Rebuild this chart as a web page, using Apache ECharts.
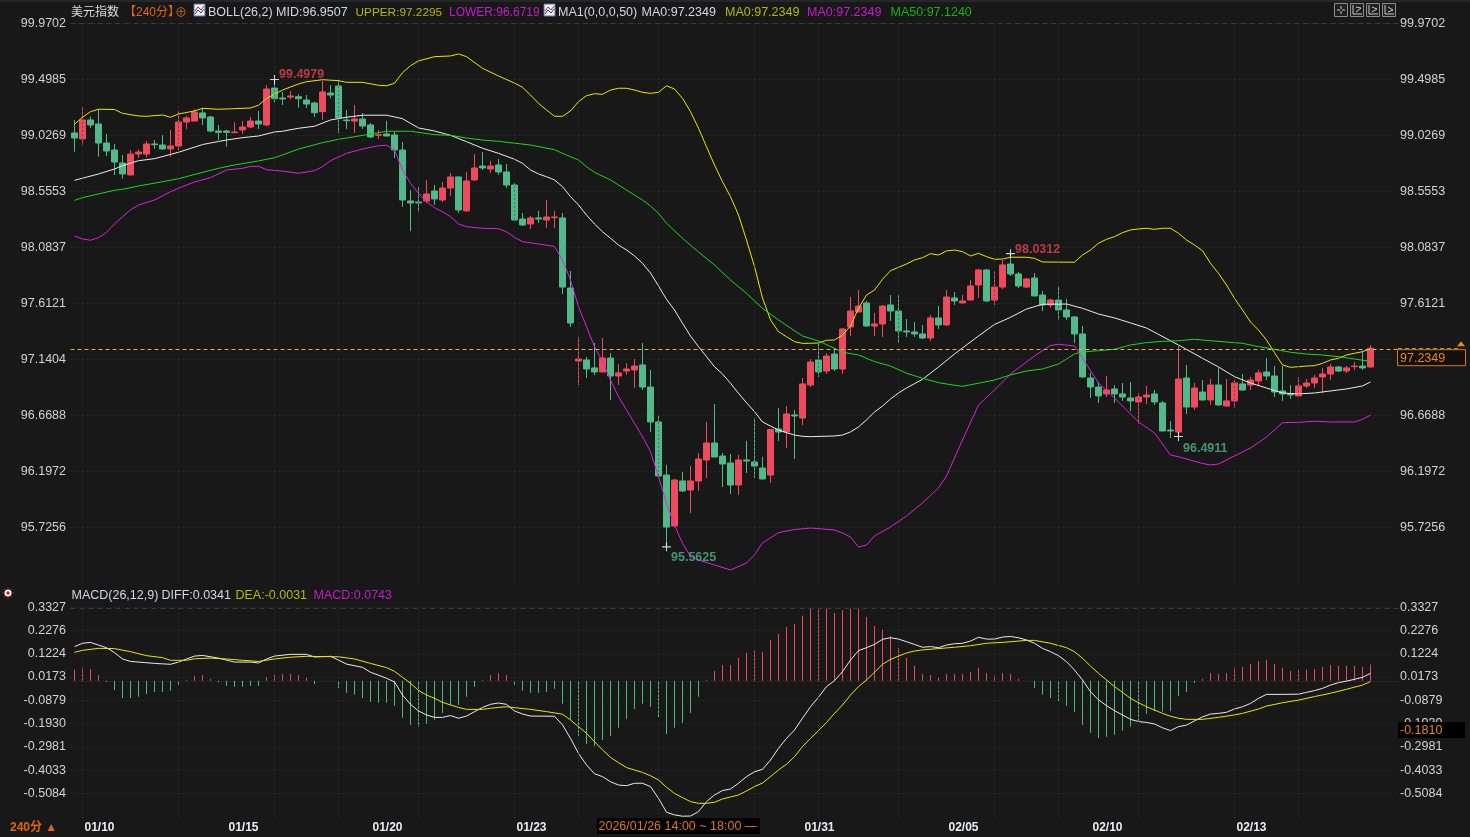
<!DOCTYPE html>
<html>
<head>
<meta charset="utf-8">
<title>美元指数 240分</title>
<style>
html,body{margin:0;padding:0;background:#181818;}
#main{width:1470px;height:837px;}
</style>
<script src="https://cdn.jsdelivr.net/npm/echarts@6/dist/echarts.min.js"></script>
</head>
<body>
<div id="main"></div>
<script>
// candles, oldest first
var opens = [
99.048,98.997,99.157,99.123,98.963,98.904,98.795,98.694,98.870,98.870,
98.955,98.946,98.913,98.938,99.140,99.148,99.216,99.182,99.064,99.064,
99.050,99.073,99.098,99.148,99.115,99.426,99.342,99.350,99.353,99.325,
99.300,99.227,99.384,99.443,99.157,99.148,99.165,99.115,99.028,99.039,
99.031,98.904,98.475,98.466,98.475,98.559,98.483,98.584,98.677,98.391,
98.652,98.769,98.744,98.778,98.719,98.609,98.323,98.281,98.332,98.315,
98.334,98.332,97.742,97.127,97.136,97.069,97.035,97.152,97.001,97.043,
97.052,97.094,96.908,96.614,96.167,95.738,96.117,96.041,96.117,96.294,
96.437,96.327,96.268,96.083,96.294,96.277,96.226,96.167,96.555,96.529,
96.673,96.647,96.925,97.136,97.043,97.186,97.060,97.414,97.540,97.616,
97.422,97.439,97.599,97.548,97.380,97.372,97.355,97.321,97.490,97.431,
97.658,97.616,97.641,97.767,97.894,97.641,97.750,97.944,97.860,97.750,
97.826,97.683,97.599,97.641,97.557,97.498,97.355,96.984,96.908,96.850,
96.892,96.850,96.816,96.782,96.824,96.850,96.774,96.546,96.529,96.984,
96.740,96.866,96.799,96.925,96.748,96.791,96.934,96.925,96.959,97.035,
97.001,96.875,96.850,96.833,96.917,96.942,96.993,97.018,97.077,97.043,
97.080,97.085,97.077];
var closes = [
99.005,99.157,99.115,98.963,98.896,98.803,98.702,98.870,98.887,98.955,
98.949,98.913,98.938,99.140,99.174,99.224,99.174,99.064,99.053,99.053,
99.056,99.098,99.148,99.123,99.418,99.336,99.334,99.359,99.336,99.291,
99.218,99.393,99.367,99.174,99.151,99.165,99.106,99.014,99.033,99.022,
98.904,98.483,98.458,98.458,98.534,98.492,98.584,98.677,98.399,98.643,
98.753,98.753,98.769,98.719,98.609,98.315,98.273,98.332,98.323,98.340,
98.340,97.750,97.447,97.144,97.060,97.035,97.152,97.001,97.027,97.060,
97.085,96.908,96.614,96.159,95.729,96.125,96.033,96.117,96.302,96.437,
96.319,96.260,96.083,96.294,96.285,96.243,96.134,96.550,96.529,96.681,
96.664,96.934,97.119,97.035,97.169,97.060,97.397,97.548,97.590,97.422,
97.439,97.590,97.548,97.380,97.372,97.355,97.321,97.490,97.431,97.666,
97.633,97.633,97.759,97.894,97.633,97.750,97.936,97.860,97.759,97.818,
97.675,97.599,97.641,97.557,97.498,97.355,96.993,96.908,96.833,96.883,
96.850,96.824,96.791,96.824,96.841,96.782,96.538,96.538,96.976,96.740,
96.900,96.799,96.925,96.757,96.791,96.942,96.883,96.967,97.027,97.001,
96.866,96.850,96.841,96.917,96.942,96.984,97.018,97.077,97.043,97.069,
97.085,97.069,97.2349];
var lows = [
98.890,98.949,99.090,98.848,98.854,98.694,98.663,98.690,98.837,98.843,
98.915,98.904,98.845,98.904,99.081,99.145,99.115,99.053,98.988,98.932,
99.048,99.039,99.090,99.081,99.106,99.302,99.283,99.331,99.260,99.258,
99.182,99.157,99.339,99.048,99.081,99.048,99.081,99.005,98.997,99.020,
98.837,98.424,98.222,98.382,98.458,98.441,98.466,98.517,98.374,98.388,
98.643,98.736,98.711,98.694,98.584,98.306,98.264,98.239,98.290,98.247,
98.247,97.691,97.414,96.925,96.984,97.010,97.032,96.799,96.925,97.010,
96.900,96.883,96.529,96.155,95.5625,95.729,96.024,95.847,96.033,96.142,
96.315,96.066,96.008,95.999,96.184,96.142,96.130,96.100,96.454,96.395,
96.302,96.588,96.908,96.993,97.018,97.043,97.018,97.338,97.537,97.414,
97.338,97.330,97.464,97.279,97.330,97.330,97.313,97.296,97.397,97.422,
97.599,97.613,97.638,97.658,97.624,97.599,97.733,97.843,97.742,97.742,
97.672,97.548,97.574,97.473,97.473,97.279,96.984,96.816,96.774,96.824,
96.774,96.791,96.706,96.597,96.765,96.757,96.535,96.479,96.4911,96.681,
96.715,96.795,96.757,96.748,96.745,96.732,96.880,96.883,96.925,96.967,
96.824,96.791,96.807,96.830,96.900,96.900,96.858,96.967,97.035,97.027,
97.052,97.052,97.069];
var highs = [
99.157,99.264,99.185,99.247,99.039,98.955,98.862,98.904,98.910,98.980,
98.988,99.031,99.073,99.230,99.191,99.247,99.258,99.191,99.115,99.073,
99.140,99.148,99.182,99.233,99.451,99.4979,99.393,99.401,99.373,99.367,
99.311,99.485,99.451,99.494,99.241,99.283,99.216,99.132,99.073,99.148,
99.056,98.972,98.567,98.593,98.652,98.609,98.635,98.711,98.680,98.719,
98.870,98.887,98.812,98.828,98.786,98.626,98.374,98.348,98.391,98.483,
98.391,98.374,97.885,97.330,97.161,97.279,97.321,97.194,97.102,97.110,
97.144,97.279,97.052,96.664,96.252,96.134,96.193,96.243,96.353,96.614,
96.765,96.353,96.344,96.336,96.454,96.647,96.319,96.555,96.732,96.748,
96.715,96.984,97.144,97.287,97.194,97.237,97.405,97.666,97.725,97.633,
97.532,97.599,97.683,97.683,97.481,97.456,97.431,97.515,97.590,97.725,
97.708,97.683,97.809,97.902,97.902,97.885,97.978,98.0312,97.877,97.826,
97.868,97.717,97.650,97.759,97.650,97.506,97.422,97.027,96.951,97.001,
96.925,96.942,96.951,96.858,96.917,96.883,96.791,96.622,97.254,97.094,
96.942,96.967,96.976,97.069,96.976,96.967,97.018,96.993,97.052,97.152,
97.085,97.085,96.925,96.993,96.976,97.010,97.069,97.102,97.085,97.085,
97.119,97.212,97.262];

// indicator curves: [bar, value], read where the curve bends
var bollUpper = [[0,99.121],[1,99.180],[2,99.227],[3,99.247],[5,99.245],[6,99.213],[8,99.191],[9,99.188],[11,99.199],[12,99.180],[13,99.207],[15,99.233],[16,99.255],[18,99.247],[20,99.252],[22,99.258],[23,99.281],[24,99.339],[25,99.373],[26,99.409],[28,99.460],[29,99.479],[31,99.496],[33,99.488],[34,99.474],[36,99.474],[38,99.449],[39,99.445],[40,99.466],[41,99.555],[42,99.614],[43,99.654],[45,99.690],[47,99.696],[48,99.713],[49,99.690],[51,99.592],[53,99.527],[55,99.468],[56,99.432],[57,99.367],[58,99.297],[59,99.241],[60,99.188],[61,99.188],[62,99.233],[63,99.311],[64,99.361],[65,99.378],[66,99.373],[67,99.409],[68,99.424],[69,99.424],[70,99.409],[71,99.390],[72,99.381],[73,99.390],[74,99.445],[75,99.418],[76,99.339],[77,99.227],[78,99.087],[79,98.932],[80,98.778],[81,98.637],[82,98.511],[83,98.357],[84,98.146],[85,97.922],[86,97.658],[87,97.473],[88,97.374],[89,97.332],[90,97.290],[91,97.276],[92,97.276],[93,97.279],[94,97.302],[95,97.304],[96,97.346],[97,97.422],[98,97.571],[99,97.683],[100,97.725],[101,97.815],[102,97.888],[103,97.916],[104,97.944],[105,97.978],[106,97.997],[107,98.031],[108,98.020],[109,98.054],[110,98.062],[111,98.048],[112,98.012],[113,98.034],[114,98.006],[115,97.984],[116,97.986],[117,98.001],[119,98.001],[120,97.992],[121,97.961],[125,97.959],[126,98.020],[127,98.062],[128,98.119],[129,98.152],[130,98.174],[131,98.208],[132,98.231],[133,98.239],[134,98.245],[135,98.236],[136,98.245],[137,98.245],[138,98.203],[139,98.146],[140,98.104],[141,98.056],[142,97.950],[143,97.866],[144,97.767],[145,97.655],[146,97.557],[147,97.456],[148,97.388],[149,97.304],[150,97.197],[151,97.094],[152,97.074],[153,97.079],[154,97.085],[155,97.088],[156,97.108],[157,97.136],[158,97.150],[159,97.178],[160,97.192],[161,97.206],[162,97.2295]];
var bollMid = [[0,98.649],[3,98.702],[5,98.744],[6,98.772],[8,98.814],[10,98.831],[13,98.885],[16,98.950],[18,98.976],[19,98.988],[21,99.008],[23,99.022],[25,99.056],[26,99.062],[28,99.087],[30,99.104],[32,99.157],[34,99.180],[36,99.197],[39,99.197],[41,99.168],[43,99.090],[45,99.064],[47,99.028],[49,98.974],[51,98.919],[53,98.876],[55,98.826],[56,98.792],[57,98.736],[58,98.702],[59,98.679],[60,98.652],[61,98.595],[62,98.511],[63,98.441],[64,98.357],[65,98.281],[66,98.216],[67,98.161],[68,98.104],[69,98.062],[70,98.012],[71,97.950],[72,97.868],[73,97.759],[74,97.647],[75,97.557],[76,97.445],[77,97.338],[78,97.248],[79,97.164],[80,97.079],[81,97.018],[82,96.940],[83,96.855],[84,96.776],[85,96.701],[86,96.614],[87,96.580],[88,96.546],[89,96.524],[90,96.504],[91,96.493],[92,96.490],[95,96.496],[96,96.504],[97,96.530],[98,96.572],[99,96.631],[100,96.698],[101,96.748],[102,96.807],[103,96.858],[104,96.900],[106,96.973],[108,97.077],[110,97.186],[111,97.237],[113,97.338],[115,97.435],[117,97.495],[119,97.565],[121,97.605],[124,97.607],[126,97.571],[128,97.523],[130,97.490],[132,97.448],[134,97.405],[138,97.262],[141,97.150],[143,97.077],[145,96.995],[147,96.942],[149,96.900],[151,96.858],[153,96.850],[155,96.858],[157,96.875],[159,96.892],[161,96.917],[162,96.9507]];
var bollLower = [[0,98.180],[1,98.155],[2,98.144],[3,98.166],[4,98.211],[5,98.281],[6,98.343],[7,98.399],[8,98.441],[10,98.483],[12,98.553],[13,98.582],[15,98.635],[17,98.671],[19,98.736],[21,98.750],[22,98.767],[23,98.767],[24,98.738],[26,98.727],[28,98.708],[30,98.730],[31,98.764],[32,98.814],[34,98.876],[36,98.912],[38,98.940],[39,98.944],[40,98.904],[41,98.736],[42,98.624],[43,98.540],[44,98.469],[45,98.418],[46,98.385],[47,98.343],[48,98.281],[49,98.258],[51,98.245],[53,98.241],[54,98.216],[55,98.169],[56,98.132],[58,98.113],[60,98.092],[61,97.978],[62,97.809],[63,97.585],[64,97.416],[65,97.248],[66,97.122],[67,96.967],[68,96.827],[69,96.715],[70,96.603],[71,96.490],[72,96.364],[73,96.153],[74,95.929],[75,95.746],[76,95.592],[77,95.480],[78,95.452],[80,95.410],[82,95.367],[84,95.426],[85,95.494],[86,95.595],[88,95.682],[90,95.708],[92,95.721],[95,95.704],[96,95.679],[97,95.645],[98,95.561],[99,95.578],[100,95.654],[102,95.729],[104,95.822],[106,95.932],[108,96.058],[109,96.159],[111,96.462],[113,96.757],[115,96.883],[117,97.018],[118,97.069],[120,97.170],[122,97.258],[123,97.268],[125,97.254],[126,97.152],[128,96.942],[130,96.816],[133,96.614],[135,96.521],[137,96.336],[138,96.321],[139,96.302],[141,96.264],[142,96.252],[143,96.260],[144,96.294],[147,96.395],[149,96.487],[151,96.608],[153,96.611],[155,96.620],[157,96.614],[160,96.614],[161,96.636],[162,96.6719]];
var ma50 = [[0,98.480],[1,98.503],[3,98.534],[5,98.565],[6,98.573],[8,98.601],[11,98.637],[13,98.662],[16,98.716],[18,98.750],[20,98.778],[23,98.812],[25,98.839],[26,98.862],[28,98.912],[31,98.966],[33,98.994],[35,99.016],[38,99.050],[39,99.062],[42,99.062],[45,99.033],[47,99.028],[49,99.005],[51,98.988],[53,98.977],[57,98.946],[60,98.907],[61,98.876],[63,98.820],[64,98.764],[65,98.716],[67,98.652],[69,98.567],[71,98.483],[72,98.433],[73,98.371],[74,98.287],[76,98.161],[78,98.045],[80,97.936],[82,97.809],[84,97.697],[86,97.571],[88,97.473],[90,97.382],[91,97.338],[93,97.296],[95,97.234],[96,97.201],[98,97.178],[100,97.122],[102,97.085],[104,97.024],[106,96.982],[108,96.945],[110,96.923],[111,96.914],[113,96.940],[115,96.967],[117,97.010],[119,97.043],[121,97.060],[123,97.102],[124,97.144],[125,97.186],[126,97.203],[128,97.214],[130,97.226],[132,97.262],[134,97.282],[136,97.293],[138,97.298],[140,97.310],[142,97.298],[144,97.287],[146,97.276],[148,97.248],[150,97.226],[152,97.201],[154,97.186],[156,97.178],[158,97.164],[160,97.144],[162,97.1240]];

var macdBars = [
0.050,0.059,0.054,0.027,-0.005,-0.041,-0.077,-0.077,-0.072,-0.059,
-0.050,-0.050,-0.045,-0.018,0.004,0.023,0.027,0.009,-0.006,-0.023,
-0.027,-0.027,-0.023,-0.023,0.018,0.027,0.032,0.032,0.027,0.014,
-0.014,0.002,0.002,-0.032,-0.054,-0.063,-0.077,-0.095,-0.099,-0.099,
-0.113,-0.167,-0.199,-0.208,-0.194,-0.176,-0.145,-0.109,-0.109,-0.072,
-0.027,0.004,0.027,0.036,0.027,-0.018,-0.045,-0.054,-0.054,-0.050,
-0.036,-0.104,-0.176,-0.249,-0.285,-0.294,-0.267,-0.249,-0.212,-0.172,
-0.127,-0.104,-0.118,-0.167,-0.240,-0.212,-0.190,-0.145,-0.072,0.004,
0.045,0.072,0.072,0.104,0.127,0.136,0.131,0.185,0.212,0.244,
0.258,0.294,0.326,0.326,0.326,0.307,0.321,0.326,0.326,0.289,
0.249,0.231,0.203,0.149,0.104,0.068,0.032,0.027,0.014,0.032,
0.032,0.032,0.041,0.059,0.036,0.023,0.036,0.032,0.009,0.002,
-0.032,-0.063,-0.077,-0.095,-0.113,-0.140,-0.199,-0.235,-0.258,-0.253,
-0.244,-0.226,-0.208,-0.181,-0.149,-0.136,-0.140,-0.136,-0.068,-0.050,
-0.009,0.009,0.036,0.032,0.036,0.059,0.063,0.077,0.090,0.095,
0.077,0.059,0.045,0.050,0.050,0.054,0.063,0.072,0.068,0.068,
0.068,0.063,0.0743];
var diffLine = [[0,0.155],[1,0.170],[2,0.174],[3,0.162],[4,0.150],[5,0.128],[6,0.099],[7,0.088],[8,0.085],[10,0.079],[12,0.075],[13,0.085],[14,0.099],[15,0.112],[16,0.115],[18,0.103],[20,0.085],[22,0.085],[23,0.081],[24,0.099],[25,0.112],[27,0.120],[29,0.120],[30,0.108],[32,0.111],[33,0.094],[34,0.076],[36,0.061],[37,0.039],[39,0.012],[40,-0.005],[41,-0.064],[42,-0.106],[43,-0.136],[44,-0.154],[45,-0.165],[46,-0.165],[47,-0.157],[48,-0.169],[49,-0.159],[51,-0.120],[52,-0.106],[53,-0.100],[54,-0.106],[55,-0.136],[56,-0.150],[57,-0.159],[60,-0.160],[61,-0.199],[62,-0.260],[63,-0.328],[64,-0.380],[65,-0.420],[66,-0.433],[67,-0.456],[68,-0.471],[69,-0.474],[70,-0.463],[71,-0.463],[72,-0.478],[73,-0.531],[74,-0.594],[75,-0.606],[76,-0.612],[77,-0.611],[78,-0.591],[79,-0.546],[80,-0.516],[81,-0.496],[82,-0.489],[83,-0.463],[84,-0.433],[85,-0.411],[86,-0.400],[87,-0.358],[88,-0.305],[89,-0.260],[90,-0.222],[91,-0.169],[92,-0.117],[93,-0.074],[94,-0.026],[95,0.001],[96,0.042],[97,0.094],[98,0.137],[99,0.150],[100,0.165],[101,0.188],[102,0.195],[103,0.189],[104,0.177],[105,0.165],[106,0.152],[107,0.155],[108,0.150],[109,0.162],[110,0.168],[111,0.170],[112,0.180],[113,0.197],[114,0.189],[115,0.189],[116,0.198],[117,0.201],[118,0.195],[119,0.185],[120,0.170],[121,0.147],[122,0.132],[123,0.114],[124,0.087],[125,0.049],[126,0.004],[127,-0.049],[128,-0.086],[129,-0.112],[130,-0.135],[131,-0.154],[132,-0.174],[133,-0.184],[134,-0.188],[135,-0.195],[136,-0.212],[137,-0.225],[138,-0.207],[139,-0.200],[140,-0.181],[141,-0.163],[142,-0.150],[143,-0.147],[144,-0.142],[145,-0.127],[146,-0.117],[147,-0.102],[148,-0.079],[149,-0.061],[151,-0.061],[153,-0.060],[154,-0.052],[155,-0.044],[156,-0.034],[157,-0.019],[158,-0.008],[159,-0.001],[160,0.007],[161,0.016],[162,0.0341]];
var deaLine = [[0,0.129],[1,0.138],[3,0.147],[5,0.146],[7,0.132],[9,0.114],[11,0.105],[12,0.093],[14,0.093],[15,0.100],[17,0.103],[19,0.099],[21,0.093],[23,0.088],[25,0.099],[27,0.107],[29,0.111],[33,0.109],[35,0.099],[37,0.079],[39,0.060],[40,0.043],[41,0.016],[42,-0.011],[43,-0.043],[44,-0.064],[45,-0.079],[46,-0.097],[47,-0.109],[48,-0.120],[49,-0.129],[51,-0.129],[52,-0.124],[53,-0.120],[54,-0.117],[55,-0.121],[57,-0.129],[59,-0.139],[61,-0.151],[62,-0.177],[63,-0.207],[64,-0.237],[65,-0.275],[66,-0.312],[67,-0.346],[68,-0.370],[69,-0.392],[70,-0.403],[71,-0.414],[72,-0.429],[73,-0.448],[74,-0.481],[75,-0.509],[76,-0.528],[77,-0.546],[78,-0.554],[79,-0.554],[80,-0.549],[81,-0.534],[82,-0.525],[83,-0.516],[84,-0.498],[85,-0.478],[86,-0.462],[87,-0.433],[88,-0.403],[89,-0.377],[90,-0.343],[91,-0.297],[92,-0.260],[93,-0.225],[94,-0.188],[95,-0.147],[96,-0.109],[97,-0.064],[98,-0.026],[99,0.004],[100,0.039],[101,0.075],[102,0.097],[103,0.112],[104,0.126],[105,0.135],[106,0.140],[108,0.146],[110,0.152],[112,0.159],[114,0.170],[116,0.174],[119,0.183],[120,0.183],[122,0.170],[124,0.150],[125,0.132],[126,0.102],[127,0.067],[128,0.034],[129,0.004],[130,-0.026],[131,-0.052],[132,-0.079],[133,-0.099],[134,-0.117],[135,-0.132],[136,-0.147],[137,-0.160],[138,-0.169],[139,-0.174],[141,-0.174],[143,-0.165],[145,-0.154],[146,-0.147],[148,-0.127],[149,-0.114],[151,-0.099],[153,-0.087],[155,-0.071],[157,-0.056],[159,-0.038],[161,-0.019],[162,-0.0031]];

var priceTicks = [99.9702,99.4985,99.0269,98.5553,98.0837,97.6121,97.1404,96.6688,96.1972,95.7256];
var macdTicks = [0.3327,0.2276,0.1224,0.0173,-0.0879,-0.1930,-0.2981,-0.4033,-0.5084];
var dateBars = [1,19,37,55,91,109,127,145];
var dateTexts = ['01/10','01/15','01/20','01/23','01/31','02/05','02/10','02/13'];
var gridBars = [1,13,25,33,43,55,63,73,85,93,103,115,123,133,145,153];
var extremes = [[25,99.4979,'99.4979','#e2444f',-7],[74,95.5625,'95.5625','#4fb48c',9],[117,98.0312,'98.0312','#e2444f',-6],[138,96.4911,'96.4911','#4fb48c',10]];
var lastPrice = 97.2349;
var crossTag = '-0.1810';

var barCount = 166; // a few empty bands on the right of the last candle
var categories = [];
for (var i = 0; i < barCount; i++) categories.push('');
dateBars.forEach(function (b, k) { categories[b] = dateTexts[k]; });

var candles = opens.map(function (o, k) { return [o, closes[k], lows[k], highs[k]]; });

var RED = '#ee4c5e', GREEN = '#52b98a';
var FONT = '"Liberation Sans", Arial, sans-serif';
var FS = 12.5;

var chart = echarts.init(document.getElementById('main'), null, {renderer: 'canvas'});

function vLines() {
  return gridBars.map(function (b) { return {xAxis: b}; });
}
function gridMarks(xi, yi, topValue) {
  return {
    type: 'line', xAxisIndex: xi, yAxisIndex: yi, data: [], z: 1, silent: true,
    markLine: {
      symbol: 'none', silent: true, animation: false, label: {show: false},
      lineStyle: {color: '#383838', type: [1, 3], width: 1},
      data: vLines().concat([{yAxis: topValue, lineStyle: {color: '#3a3a3a', type: [5, 4], width: 1}}])
    }
  };
}
function curve(name, data, color, xi, yi) {
  return {
    name: name, type: 'line', data: data, xAxisIndex: xi, yAxisIndex: yi, z: 3,
    showSymbol: false, symbol: 'none', silent: true,
    lineStyle: {color: color, width: 1}
  };
}
function yAxisOf(grid, pos, ticks, min, max, margin, split) {
  return {
    type: 'value', gridIndex: grid, position: pos, min: min, max: max, scale: true,
    axisLine: {show: false},
    axisTick: {show: false, customValues: ticks},
    axisLabel: {
      customValues: ticks, color: '#d2d2d2', fontFamily: FONT, fontSize: FS, margin: margin,
      formatter: function (v) { return v.toFixed(4); }
    },
    splitLine: {show: split, lineStyle: {color: '#333333', type: [1, 3], width: 1}}
  };
}

chart.setOption({
  animation: false,
  backgroundColor: '#181818',
  grid: [
    {left: 70.5, top: 23.4, width: 1328, height: 560},
    {left: 70.5, top: 607.3, width: 1328, height: 210.7}
  ],
  xAxis: [
    {type: 'category', gridIndex: 0, data: categories, show: false},
    {
      type: 'category', gridIndex: 1, data: categories,
      axisLine: {show: true, lineStyle: {color: '#242424'}},
      axisTick: {show: false},
      splitLine: {show: false},
      axisLabel: {
        show: true, interval: 0, align: 'left', margin: 4, padding: [0, 0, 0, 2], color: '#e6edf5',
        fontFamily: FONT, fontSize: 12, fontWeight: 'bold'
      }
    }
  ],
  yAxis: [
    yAxisOf(0, 'left', priceTicks, 95.2544, 99.9702, 4.5, true),
    yAxisOf(0, 'right', priceTicks, 95.2544, 99.9702, 1.5, false),
    yAxisOf(1, 'left', macdTicks, -0.6201, 0.3327, 4.5, true),
    yAxisOf(1, 'right', macdTicks, -0.6201, 0.3327, 1.5, false)
  ],
  series: [
    gridMarks(0, 0, priceTicks[0]),
    gridMarks(1, 2, macdTicks[0]),
    {
      type: 'candlestick', data: candles, xAxisIndex: 0, yAxisIndex: 0, z: 2,
      barWidth: 7, silent: true,
      itemStyle: {
        color: RED, color0: GREEN, borderColor: RED, borderColor0: GREEN,
        borderColorDoji: RED, borderWidth: 1
      },
      markLine: {
        symbol: 'none', silent: true, animation: false, label: {show: false},
        lineStyle: {color: '#e8a860', type: [4, 3], width: 1},
        data: [{yAxis: lastPrice}]
      }
    },
    curve('UPPER', bollUpper, '#e8e800', 0, 0),
    curve('MID', bollMid, '#ececec', 0, 0),
    curve('LOWER', bollLower, '#e020e0', 0, 0),
    curve('MA50', ma50, '#18d818', 0, 0),
    {
      type: 'scatter', xAxisIndex: 0, yAxisIndex: 0, z: 5, silent: true,
      data: extremes.map(function (e) {
        return {value: [e[0], e[1]], text: e[2], label: {color: e[3]}};
      }),
      symbol: 'path://M0 3.5H3.5V0H4.5V3.5H8V4.5H4.5V8H3.5V4.5H0Z',
      symbolSize: 9,
      itemStyle: {color: '#ffffff'},
      label: {
        show: true, position: 'right', fontFamily: FONT, fontSize: FS, fontWeight: 'bold',
        formatter: function (p) { return p.data.text; }
      },
      labelLayout: function (p) {
        return {x: p.rect.x + 9, y: p.rect.y + extremes[p.dataIndex][4], align: 'left', verticalAlign: 'top'};
      }
    },
    {
      type: 'bar', data: macdBars, xAxisIndex: 1, yAxisIndex: 2, z: 2, barWidth: 1, silent: true,
      itemStyle: {color: function (p) { return p.value >= 0 ? '#f0485a' : '#45b884'; }}
    },
    curve('DIFF', diffLine, '#ececec', 1, 2),
    curve('DEA', deaLine, '#e8e800', 1, 2)
  ]
});

// header rows, tags and the small toolbar icons
var headerItems = [
  ['美元指数', 71, 12.5, '#dcdcdc', 12], ['【240分】', 124, 12.5, '#e0650f', 12], ['⊕', 175, 13.5, '#d0601a', 12],
  ['BOLL(26,2) MID:96.9507', 208, 12.5, '#cfd8e2', FS], ['UPPER:97.2295', 355.5, 12.5, '#b7b700', 11.8],
  ['LOWER:96.6719', 449, 12.5, '#c41ccc', 12], ['MA1(0,0,0,50)', 558, 12.5, '#cfd8e2', FS],
  ['MA0:97.2349', 641.5, 12.5, '#cfd8e2', FS], ['MA0:97.2349', 725, 12.5, '#b7b700', FS],
  ['MA0:97.2349', 807, 12.5, '#c41ccc', FS], ['MA50:97.1240', 890.5, 12.5, '#14b414', FS],
  ['MACD(26,12,9)', 71.5, 596, '#cfd8e2', FS], ['DIFF:0.0341', 161.5, 596, '#cfd8e2', FS],
  ['DEA:-0.0031', 235.5, 596, '#b7b700', FS], ['MACD:0.0743', 313.5, 596, '#c41ccc', FS]
];
var g = [{type: 'rect', shape: {x: 0, y: 0, width: 1470, height: 2}, style: {fill: '#26262a'}, silent: true}];
headerItems.forEach(function (h) {
  g.push({type: 'text', x: h[1], y: h[2], silent: true,
    style: {text: h[0], fill: h[3], font: h[4] + 'px ' + FONT + ', "Noto Sans CJK SC"', verticalAlign: 'middle'}});
});
function chartIcon(x) {
  g.push({type: 'rect', shape: {x: x, y: 4, width: 11, height: 12}, style: {fill: '#f4f4f4', stroke: '#5a6ab0', lineWidth: 1}, silent: true});
  g.push({type: 'polyline', shape: {points: [[x + 1, 11], [x + 4, 7], [x + 7, 10], [x + 10, 6]]}, style: {stroke: '#d02020', fill: 'none', lineWidth: 1}, silent: true});
  g.push({type: 'polyline', shape: {points: [[x + 1, 14], [x + 4, 10], [x + 7, 13], [x + 10, 9]]}, style: {stroke: '#2030c0', fill: 'none', lineWidth: 1}, silent: true});
}
chartIcon(194);
chartIcon(544);
// toolbar top right
[1334, 1350, 1366, 1382].forEach(function (x, k) {
  g.push({type: 'rect', shape: {x: x + 0.5, y: 3.5, width: 13, height: 13}, style: {fill: '#202020', stroke: '#8c8c8c', lineWidth: 1}, silent: true});
  var segs = k === 0 ?
    [[x + 3, 10, x + 6, 10], [x + 8, 10, x + 11, 10], [x + 7, 6, x + 7, 9], [x + 7, 11, x + 7, 14]] :
    [[x + 3, 5, x + 3, 14], [x + 3, 14, x + 12, 14], [x + 6, 7, x + 11, 7 + k], [x + 6, 12, x + 11, 7 + k]];
  segs.forEach(function (s) {
    g.push({type: 'line', shape: {x1: s[0], y1: s[1], x2: s[2], y2: s[3]}, style: {stroke: '#c8c8c8', lineWidth: 1}, silent: true});
  });
});
// red dot at the MACD pane
g.push({type: 'circle', shape: {cx: 8, cy: 593, r: 3.5}, style: {fill: '#ffffff'}, silent: true});
g.push({type: 'circle', shape: {cx: 8, cy: 593, r: 1.7}, style: {fill: '#e01010'}, silent: true});
[[8, 587, 8, 588.5], [8, 597.5, 8, 599], [2, 593, 3.5, 593], [12.5, 593, 14, 593], [4, 589, 5, 590], [11, 590, 12, 589], [4, 597, 5, 596], [11, 596, 12, 597]].forEach(function (s) {
  g.push({type: 'line', shape: {x1: s[0], y1: s[1], x2: s[2], y2: s[3]}, style: {stroke: '#d01818', lineWidth: 1}, silent: true});
});
// bottom left period, crosshair date tag
g.push({type: 'text', x: 10, y: 828, silent: true, style: {text: '240分 ▲', fill: '#e0650f', font: 'bold 12px ' + FONT + ', "Noto Sans CJK SC"', verticalAlign: 'middle'}});
g.push({type: 'rect', shape: {x: 597, y: 818, width: 163, height: 16}, style: {fill: '#000000'}, silent: true});
g.push({type: 'text', x: 598.5, y: 827, silent: true, style: {text: '2026/01/26 14:00 ~ 18:00 —', fill: '#e07818', font: FS + 'px ' + FONT, verticalAlign: 'middle'}});

// tags on the right: price tag follows the axis scale, crosshair tag stays where it was left
var priceY = chart.convertToPixel({yAxisIndex: 0}, lastPrice);
g.push({type: 'line', shape: {x1: 1398, y1: priceY + 0.5, x2: 1460, y2: priceY + 0.5}, style: {stroke: '#e8a860', lineWidth: 1, lineDash: [4, 3]}, silent: true});
g.push({type: 'polygon', shape: {points: [[1457, priceY - 2], [1465, priceY - 2], [1461, priceY - 7]]}, style: {fill: '#e8881a'}, silent: true});
g.push({type: 'rect', shape: {x: 1397.5, y: priceY + 1.5, width: 68, height: 16}, style: {fill: '#101010', stroke: '#e07818', lineWidth: 1}, silent: true});
g.push({type: 'text', x: 1400, y: priceY + 10, silent: true, style: {text: lastPrice.toFixed(4), fill: '#e8861e', font: FS + 'px ' + FONT, verticalAlign: 'middle'}});
g.push({type: 'rect', shape: {x: 1398, y: 722, width: 67, height: 16}, style: {fill: '#000000'}, silent: true});
g.push({type: 'text', x: 1400, y: 730.5, silent: true, style: {text: crossTag, fill: '#e8861e', font: FS + 'px ' + FONT, verticalAlign: 'middle'}});
g.forEach(function (el) { el.z = 100; });

chart.setOption({graphic: {elements: g}});
</script>
</body>
</html>
